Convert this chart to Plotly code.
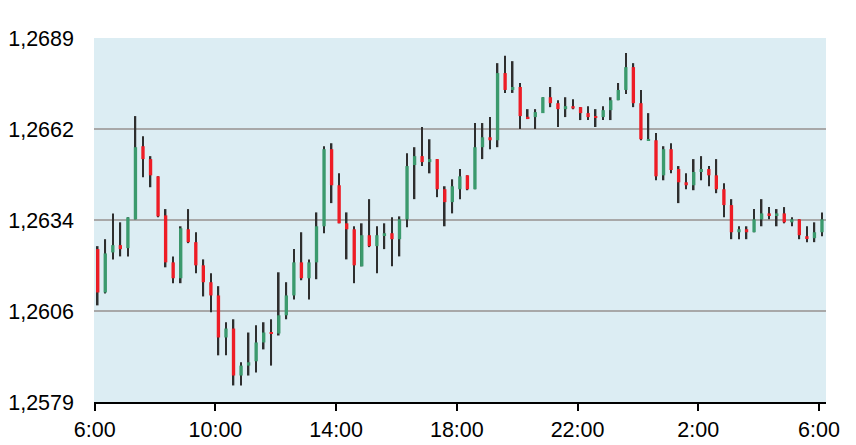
import plotly.graph_objects as go
import pandas as pd

# 15-minute candles, 6:06 to 6:06 next day
times = pd.date_range("2024-01-08 06:06", periods=97, freq="15min")

open_ = [1.26252, 1.26121, 1.26242, 1.26264, 1.26255, 1.26342, 1.26563, 1.26524, 1.26472, 1.26354,
         1.26212, 1.26164, 1.26312, 1.26273, 1.26203, 1.26152, 1.26112, 1.25985, 1.26012, 1.25870,
         1.25900, 1.25913, 1.25970, 1.26000, 1.25997, 1.26052, 1.26112, 1.26212, 1.26164, 1.26212,
         1.26321, 1.26554, 1.26445, 1.26330, 1.26312, 1.26200, 1.26294, 1.26261, 1.26294, 1.26300,
         1.26282, 1.26342, 1.26506, 1.26533, 1.26515, 1.26524, 1.26433, 1.26394, 1.26433, 1.26475,
         1.26433, 1.26560, 1.26590, 1.26581, 1.26784, 1.26733, 1.26742, 1.26652, 1.26651, 1.26663,
         1.26711, 1.26693, 1.26675, 1.26684, 1.26681, 1.26663, 1.26654, 1.26651, 1.26672, 1.26702,
         1.26733, 1.26802, 1.26693, 1.26581, 1.26581, 1.26475, 1.26554, 1.26494, 1.26454, 1.26445,
         1.26485, 1.26494, 1.26475, 1.26433, 1.26385, 1.26303, 1.26312, 1.26303, 1.26342, 1.26360,
         1.26354, 1.26360, 1.26333, 1.26342, 1.26291, 1.26285, 1.26303]
high = [1.26261, 1.26282, 1.26360, 1.26333, 1.26348, 1.26654, 1.26593, 1.26533, 1.26472, 1.26373,
        1.26230, 1.26321, 1.26373, 1.26303, 1.26221, 1.26179, 1.26140, 1.26031, 1.26040, 1.25910,
        1.26000, 1.26022, 1.26031, 1.26040, 1.26182, 1.26152, 1.26252, 1.26303, 1.26221, 1.26363,
        1.26563, 1.26572, 1.26481, 1.26363, 1.26321, 1.26330, 1.26403, 1.26321, 1.26330, 1.26348,
        1.26351, 1.26542, 1.26560, 1.26621, 1.26584, 1.26524, 1.26442, 1.26463, 1.26494, 1.26475,
        1.26633, 1.26633, 1.26651, 1.26814, 1.26836, 1.26820, 1.26754, 1.26675, 1.26675, 1.26711,
        1.26742, 1.26702, 1.26711, 1.26705, 1.26681, 1.26684, 1.26675, 1.26684, 1.26711, 1.26754,
        1.26845, 1.26814, 1.26733, 1.26663, 1.26603, 1.26563, 1.26572, 1.26503, 1.26481, 1.26524,
        1.26533, 1.26503, 1.26524, 1.26451, 1.26403, 1.26321, 1.26321, 1.26373, 1.26403, 1.26379,
        1.26373, 1.26379, 1.26348, 1.26342, 1.26321, 1.26333, 1.26363]
low = [1.26082, 1.26118, 1.26221, 1.26230, 1.26230, 1.26342, 1.26469, 1.26439, 1.26348, 1.26197,
       1.26149, 1.26149, 1.26270, 1.26179, 1.26109, 1.26061, 1.25931, 1.25931, 1.25840, 1.25840,
       1.25870, 1.25879, 1.25949, 1.25900, 1.25991, 1.26040, 1.26100, 1.26158, 1.26100, 1.26161,
       1.26300, 1.26391, 1.26330, 1.26221, 1.26149, 1.26200, 1.26258, 1.26179, 1.26252, 1.26200,
       1.26230, 1.26318, 1.26403, 1.26503, 1.26481, 1.26409, 1.26321, 1.26360, 1.26403, 1.26430,
       1.26433, 1.26524, 1.26554, 1.26560, 1.26724, 1.26724, 1.26615, 1.26645, 1.26615, 1.26663,
       1.26681, 1.26621, 1.26651, 1.26675, 1.26642, 1.26642, 1.26621, 1.26642, 1.26642, 1.26702,
       1.26721, 1.26681, 1.26581, 1.26581, 1.26460, 1.26460, 1.26481, 1.26391, 1.26433, 1.26430,
       1.26460, 1.26442, 1.26421, 1.26348, 1.26282, 1.26282, 1.26282, 1.26303, 1.26321, 1.26342,
       1.26321, 1.26330, 1.26321, 1.26282, 1.26273, 1.26273, 1.26291]
close = [1.26121, 1.26239, 1.26264, 1.26252, 1.26348, 1.26560, 1.26524, 1.26475, 1.26351, 1.26212,
         1.26164, 1.26315, 1.26273, 1.26203, 1.26152, 1.26112, 1.25985, 1.26012, 1.25870, 1.25900,
         1.25910, 1.25970, 1.26000, 1.25997, 1.26052, 1.26112, 1.26212, 1.26164, 1.26212, 1.26321,
         1.26554, 1.26445, 1.26330, 1.26312, 1.26203, 1.26294, 1.26261, 1.26294, 1.26300, 1.26282,
         1.26342, 1.26503, 1.26533, 1.26515, 1.26524, 1.26433, 1.26394, 1.26442, 1.26472, 1.26433,
         1.26560, 1.26590, 1.26581, 1.26784, 1.26733, 1.26742, 1.26654, 1.26647, 1.26666, 1.26711,
         1.26693, 1.26675, 1.26684, 1.26677, 1.26663, 1.26651, 1.26649, 1.26672, 1.26702, 1.26733,
         1.26802, 1.26693, 1.26584, 1.26584, 1.26472, 1.26554, 1.26491, 1.26454, 1.26445, 1.26485,
         1.26494, 1.26475, 1.26433, 1.26385, 1.26303, 1.26312, 1.26303, 1.26342, 1.26360, 1.26354,
         1.26360, 1.26333, 1.26342, 1.26294, 1.26285, 1.26303, 1.26342]

y_tick_vals = [1.2579, 1.26065, 1.2634, 1.26615, 1.2689]
y_tick_text = ["1,2579", "1,2606", "1,2634", "1,2662", "1,2689"]

UP = "#3b9a6d"
DOWN = "#ee1c25"
WICK = "#2e2e2e"

body_base = [min(o, c) for o, c in zip(open_, close)]
body_h = [abs(c - o) for o, c in zip(open_, close)]
body_col = [UP if c >= o else DOWN for o, c in zip(open_, close)]
wick_h = [h - l for h, l in zip(high, low)]

fig = go.Figure()
fig.add_trace(go.Bar(x=times, base=low, y=wick_h, width=190000,
                     marker=dict(color=WICK, line=dict(width=0)),
                     hoverinfo="skip", showlegend=False))
fig.add_trace(go.Bar(x=times, base=body_base, y=body_h, width=400000,
                     marker=dict(color=body_col, line=dict(width=0)),
                     showlegend=False))

# page body has an 8px margin; figure sized so the whole chart fits the 856x445 window
fig.update_layout(
    width=848, height=437,
    margin=dict(l=86, r=30, t=30, b=43),
    barmode="overlay",
    paper_bgcolor="white",
    plot_bgcolor="#dcedf3",
    font=dict(family="Liberation Sans, Arial, sans-serif", size=21.5, color="black"),
    showlegend=False,
)
fig.update_xaxes(
    type="date",
    range=["2024-01-08 05:58:36", "2024-01-09 06:14:00"],
    tick0="2024-01-08 06:00", dtick=4 * 3600 * 1000,
    tickformat="%-H:%M",
    ticks="outside", ticklen=7, tickwidth=2, tickcolor="black",
    showline=True, linecolor="black", linewidth=2,
    showgrid=False, zeroline=False, automargin=False,
)
fig.update_yaxes(
    range=[1.2579, 1.2689],
    tickmode="array", tickvals=y_tick_vals, ticktext=y_tick_text,
    showgrid=True, gridcolor="#a8a8a8", gridwidth=1.5,
    zeroline=False, showline=False, ticks="",
    ticklabelstandoff=19, automargin=False,
)

fig.write_html("out.html")
